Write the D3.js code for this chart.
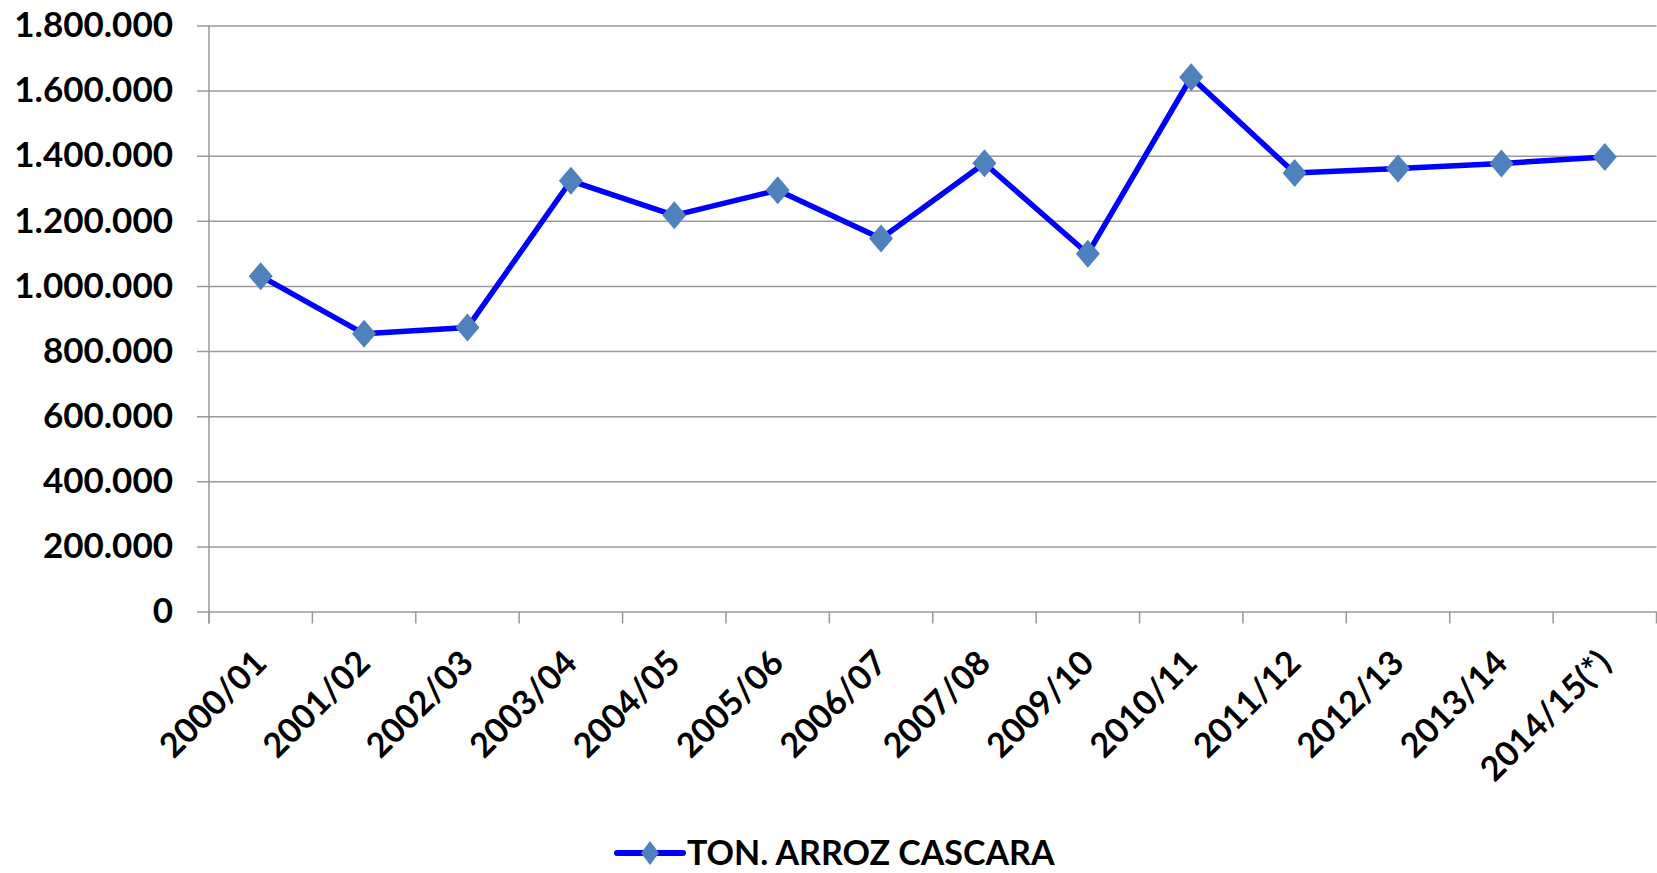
<!DOCTYPE html>
<html>
<head>
<meta charset="utf-8">
<script src="https://cdn.jsdelivr.net/npm/d3@7"></script>
<style>
  html, body { margin: 0; padding: 0; background: #fff; }
  #chart { width: 1657px; height: 873px; }
  text { font-family: Lato, "Open Sans", sans-serif; font-weight: bold; fill: #000; }
</style>
</head>
<body>
<div id="chart"></div>
<script>
var seasons = ["2000/01", "2001/02", "2002/03", "2003/04", "2004/05", "2005/06", "2006/07",
               "2007/08", "2009/10", "2010/11", "2011/12", "2012/13", "2013/14", "2014/15(*)"];
var tonnes = [1030000, 853000, 872000, 1323000, 1217000, 1294000, 1146000,
              1377000, 1099000, 1641000, 1347000, 1361000, 1376000, 1396000];
var yTicks = [0, 200000, 400000, 600000, 800000, 1000000, 1200000, 1400000, 1600000, 1800000];
var seriesName = "TON. ARROZ CASCARA";

var width = 1657, height = 873;
var plot = { left: 209, right: 1656.5, top: 25.5, bottom: 611.5 };

var locale = d3.formatLocale({ decimal: ",", thousands: ".", grouping: [3], currency: ["", ""] });
var fmt = locale.format(",d");

var svg = d3.select("#chart")
            .append("svg")
            .attr("width", width)
            .attr("height", height);

var x = d3.scaleBand()
          .domain(seasons)
          .range([plot.left, plot.right])
          .padding(0);

var y = d3.scaleLinear()
          .domain([0, 1800000])
          .range([plot.bottom, plot.top]);

// gridlines + y ticks
var yAxis = svg.append("g")
               .attr("transform", "translate(" + plot.left + ",0)")
               .call(d3.axisLeft(y)
                       .tickValues(yTicks)
                       .tickFormat(fmt)
                       .tickSize(12)
                       .tickPadding(24));
yAxis.select(".domain").remove();
yAxis.selectAll(".tick line")
     .attr("x2", plot.right - plot.left + 12)
     .attr("transform", "translate(-12,0)")
     .attr("stroke", "#9a9a9a")
     .attr("stroke-width", 1.5);
yAxis.selectAll(".tick text")
     .attr("font-size", 35)
     .attr("font-family", "Lato, 'Open Sans', sans-serif")
     .attr("font-weight", "bold")
     .attr("fill", "#000");

// vertical axis line
svg.append("line")
   .attr("x1", plot.left).attr("x2", plot.left)
   .attr("y1", plot.top).attr("y2", plot.bottom + 12)
   .attr("stroke", "#9a9a9a")
   .attr("stroke-width", 1.5);

// x ticks on category boundaries
var bounds = seasons.map(function(s) { return x(s); }).concat([plot.right]);
svg.append("g")
   .selectAll("line")
   .data(bounds)
   .enter().append("line")
   .attr("x1", function(d) { return d; })
   .attr("x2", function(d) { return d; })
   .attr("y1", plot.bottom)
   .attr("y2", plot.bottom + 12)
   .attr("stroke", "#9a9a9a")
   .attr("stroke-width", 1.5);

// x labels, rotated
svg.append("g")
   .selectAll("text")
   .data(seasons)
   .enter().append("text")
   .attr("transform", function(d) {
       return "translate(" + (x(d) + x.bandwidth() / 2 + 8) + ",665) rotate(-45)";
   })
   .attr("text-anchor", "end")
   .attr("font-size", 34)
   .text(function(d) { return d; });

var pts = seasons.map(function(s, i) { return { s: s, v: tonnes[i] }; });

var line = d3.line()
             .x(function(d) { return x(d.s) + x.bandwidth() / 2; })
             .y(function(d) { return y(d.v); });

svg.append("path")
   .datum(pts)
   .attr("d", line)
   .attr("fill", "none")
   .attr("stroke", "#0000ff")
   .attr("stroke-width", 5.5)
   .attr("stroke-linejoin", "round");

function diamond(w, h) {
    return "M0," + (-h) + "L" + w + ",0L0," + h + "L" + (-w) + ",0Z";
}

svg.append("g")
   .selectAll("path")
   .data(pts)
   .enter().append("path")
   .attr("d", diamond(12, 14))
   .attr("transform", function(d) {
       return "translate(" + (x(d.s) + x.bandwidth() / 2) + "," + y(d.v) + ")";
   })
   .attr("fill", "#4f81bd");

// legend
var legend = svg.append("g").attr("transform", "translate(617,853)");
legend.append("line")
      .attr("x1", 0).attr("x2", 66)
      .attr("stroke", "#0000ff")
      .attr("stroke-width", 6)
      .attr("stroke-linecap", "round");
legend.append("path")
      .attr("d", diamond(9, 12))
      .attr("transform", "translate(33,0)")
      .attr("fill", "#4f81bd");
legend.append("text")
      .attr("x", 70)
      .attr("y", 12)
      .attr("font-size", 34)
      .text(seriesName);
</script>
</body>
</html>
